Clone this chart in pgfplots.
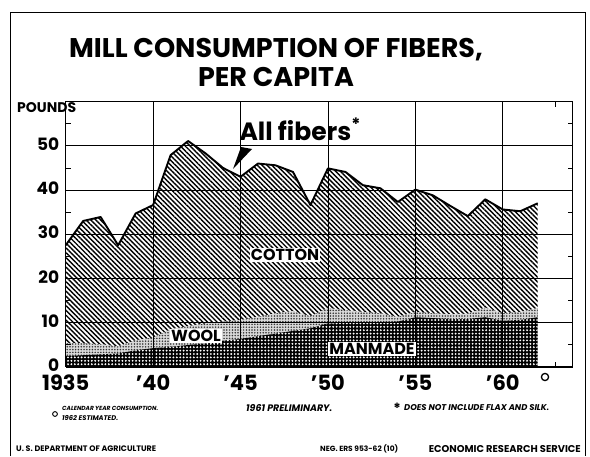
\documentclass[border=0pt]{standalone}
\usepackage{pgfplots}
\pgfplotsset{compat=1.18}
\usepackage{pgfplotstable}
\usetikzlibrary{patterns.meta}
\usepackage{fontspec}
\setmainfont{Poppins}

\pgfplotstableread{
year manmade wooltop total
1935 2.4 5.4 27.5
1936 2.6 5.3 33.0
1937 2.8 5.1 33.9
1938 3.0 4.6 27.5
1939 3.7 6.0 34.7
1940 4.2 6.6 36.6
1941 4.5 8.5 47.9
1942 4.9 9.2 51.1
1943 5.3 9.8 48.3
1944 5.9 10.2 45.0
1945 6.3 10.6 43.0
1946 6.9 11.3 46.0
1947 7.5 12.1 45.6
1948 8.1 12.6 44.1
1949 8.7 11.4 36.6
1950 9.8 13.3 44.9
1951 9.9 12.8 44.1
1952 10.0 12.4 41.1
1953 10.1 12.1 40.4
1954 10.2 11.3 37.3
1955 11.2 12.4 40.1
1956 11.0 12.1 38.8
1957 10.8 11.9 36.4
1958 10.8 12.0 34.1
1959 11.2 13.4 37.9
1960 10.4 12.1 35.6
1961 10.6 12.4 35.2
1962 11.2 13.3 37.0
}\fibers

\begin{document}
\begin{tikzpicture}[x=1pt,y=1pt]
\path[use as bounding box] (0,0) rectangle (590,456);
\fill[white] (0,0) rectangle (590,456);
% frame
\draw[line width=0.9pt] (10,0) -- (10,444) -- (585,444) -- (585,0);

\begin{axis}[
  scale only axis, width=507pt, height=265pt,
  at={(65.7pt,89.3pt)}, anchor=south west,
  xmin=1935, xmax=1964, ymin=0, ymax=60,
  axis on top,
  xtick={1935,1940,1945,1950,1955,1960},
  xticklabels={1935,'40,'45,'50,'55,'60},
  minor xtick={1963},
  ytick={0,10,20,30,40,50},
  minor ytick={5,15,25,35,45,55},
  extra y ticks={10,20,30,40,50},
  extra y tick labels={},
  extra y tick style={grid=none, major tick length=5pt},
  xmajorgrids, ymajorgrids,
  major grid style={black, line width=0.8pt},
  major tick length=0pt, minor tick length=5pt,
  tick align=inside,
  tick style={black, line width=0.8pt},
  axis line style={black, line width=0.9pt},
  /pgf/number format/assume math mode=true,
  yticklabel style={font=\fontsize{17}{17}\selectfont\bfseries, xshift=-3pt, yshift=1.5pt},
  xticklabel style={font=\fontsize{21}{21}\selectfont\bfseries, yshift=-5pt},
  clip=false,
]
% cotton (all fibers area)
\addplot[draw=none, fill=white,
  postaction={pattern={Lines[angle=-45, distance=3.4pt, line width=1.4pt]}, pattern color=black}]
  table[x=year, y=total]{\fibers} \closedcycle;
% wool
\addplot[draw=none, fill=black!15,
  postaction={pattern={Dots[distance=2.8pt, radius=0.85pt]}, pattern color=black!80}]
  table[x=year, y=wooltop]{\fibers} \closedcycle;
% manmade
\addplot[draw=none, fill=black,
  postaction={pattern={Dots[distance=3.4pt, radius=1.05pt]}, pattern color=white}]
  table[x=year, y=manmade]{\fibers} \closedcycle;
% all fibers outline
\addplot[black, line width=1.9pt, line join=round] table[x=year, y=total]{\fibers};
\end{axis}
\draw[line width=2pt] (65.7,89.3) -- (572.7,89.3);
\draw[line width=1.3pt] (545,79) circle (3.6pt);

% title
\node[font=\fontsize{27}{29}\selectfont\bfseries, align=center] at (276,394)
  {MILL CONSUMPTION OF FIBERS,\\PER CAPITA};
\node[font=\fontsize{14}{14}\selectfont\bfseries, anchor=west, inner sep=0pt] at (17,348) {POUNDS};

% series labels
\node[font=\fontsize{25}{25}\selectfont\bfseries] at (300,327) {All fibers\raisebox{0.4em}{\fontsize{17}{17}\selectfont *}};
\fill (241,309) -- (252,307) -- (233,287) -- cycle;
\node[font=\fontsize{16}{16}\selectfont\bfseries, fill=white, inner sep=1.2pt] at (285,201) {COTTON};
\node[font=\fontsize{16}{16}\selectfont\bfseries, fill=white, inner sep=1.2pt] at (196,120) {WOOL};
\node[font=\fontsize{16}{16}\selectfont\bfseries, fill=white, inner sep=1.2pt] at (372,107) {MANMADE};

% footnotes
\begin{scope}[every node/.style={font=\fontsize{6}{6}\selectfont\bfseries\itshape, inner sep=0pt}]
\node[anchor=west] at (62,48) {\resizebox{96pt}{!}{CALENDAR YEAR CONSUMPTION.}};
\node[anchor=west] at (62,38) {\resizebox{56pt}{!}{1962 ESTIMATED.}};
\node[anchor=west] at (246,48) {\resizebox{86pt}{!}{1961 PRELIMINARY.}};
\node[anchor=west] at (404,48) {\resizebox{145pt}{!}{DOES NOT INCLUDE FLAX AND SILK.}};
\end{scope}
\draw[line width=0.9pt] (55,42) circle (2.4pt);
\node[font=\fontsize{14}{14}\selectfont\bfseries, inner sep=0pt] at (397,48) {*};
\begin{scope}[every node/.style={font=\fontsize{6}{6}\selectfont\bfseries, inner sep=0pt}]
\node[anchor=west] at (16,7) {\resizebox{140pt}{!}{U. S. DEPARTMENT OF AGRICULTURE}};
\node[anchor=west] at (320,7) {\resizebox{78pt}{!}{NEG. ERS 953-62 (10)}};
\node[anchor=east] at (581,7) {\resizebox{152pt}{!}{ECONOMIC RESEARCH SERVICE}};
\end{scope}
\end{tikzpicture}
\end{document}
